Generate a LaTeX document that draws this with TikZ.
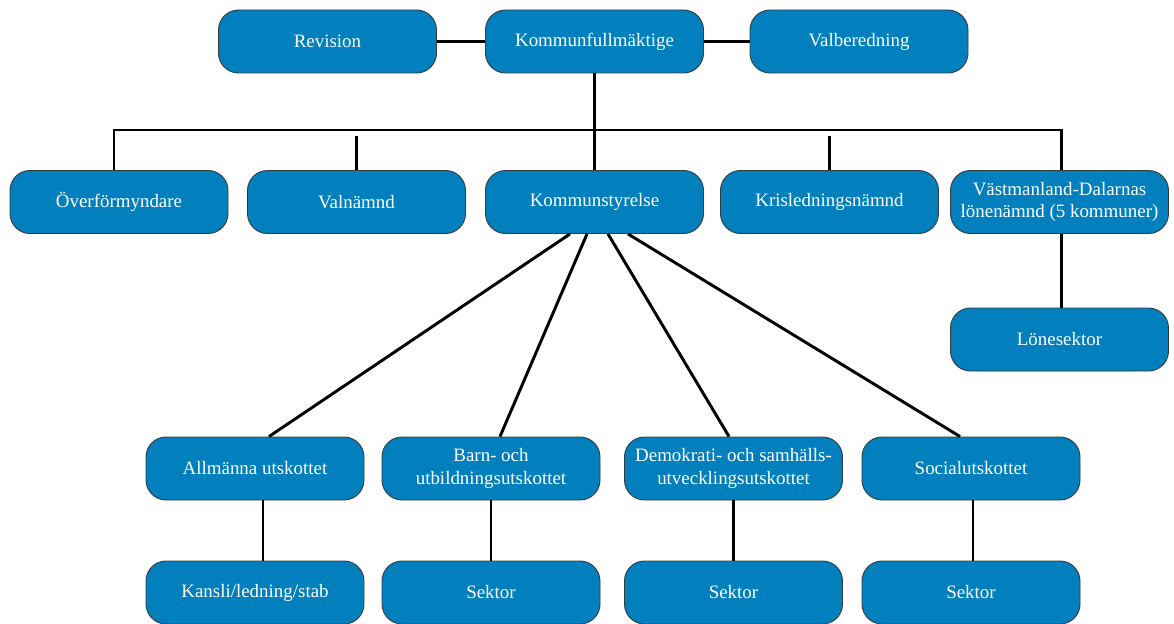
\documentclass[tikz,border=0pt]{standalone}
\usepackage{fontspec}
\setmainfont{Liberation Serif}
\usetikzlibrary{calc}
\definecolor{boxblue}{RGB}{2,128,190}
\definecolor{boxedge}{RGB}{50,60,70}
\begin{document}
\begin{tikzpicture}[x=0.75pt,y=-0.75pt,
  orgbox/.style={draw=boxedge,line width=0.7pt,fill=boxblue,rounded corners=15pt,
    minimum width=163.5pt,minimum height=47.25pt,inner sep=1pt,text=white,
    align=center,font=\fontsize{14.2}{17}\selectfont},
  link/.style={line width=2.2pt,black}]
\useasboundingbox (0,0) rectangle (1174,624);
% top row
\node[orgbox] (rev) at (327.5,41.5) {Revision};
\node[orgbox] (kf) at (594.5,41.5) {Kommunfullmäktige};
\node[orgbox] (vb) at (859,41.5) {Valberedning};
% second row
\node[orgbox] (ov) at (119,202) {Överförmyndare};
\node[orgbox] (vn) at (356.5,202) {Valnämnd};
\node[orgbox] (ks) at (594.5,202) {Kommunstyrelse};
\node[orgbox] (kl) at (829.5,202) {Krisledningsnämnd};
\node[orgbox] (vm) at (1059.5,202) {Västmanland-Dalarnas\\lönenämnd (5 kommuner)};
\node[orgbox] (ls) at (1059.5,339.5) {Lönesektor};
% third row
\node[orgbox] (au) at (255,468.5) {Allmänna utskottet};
\node[orgbox] (bu) at (491,468.5) {Barn- och\\utbildningsutskottet};
\node[orgbox] (du) at (733.5,468.5) {Demokrati- och samhälls-\\utvecklingsutskottet};
\node[orgbox] (su) at (971,468.5) {Socialutskottet};
% fourth row
\node[orgbox] (kls) at (255,592.5) {Kansli/ledning/stab};
\node[orgbox] (s1) at (491,592.5) {Sektor};
\node[orgbox] (s2) at (733.5,592.5) {Sektor};
\node[orgbox] (s3) at (971,592.5) {Sektor};
% connectors
\coordinate (bus) at (594.5,130);
\coordinate (ovtop) at ($(ov.north)+(-5,0)$);
\coordinate (vmtop) at ($(vm.north)+(2,0)$);
\draw[link] (rev) -- (kf);
\draw[link] (kf) -- (vb);
\draw[link] (kf.south) -- (ks.north);
\draw[link] (ovtop) -- (ovtop |- bus) -- (vmtop |- bus) -- (vmtop);
\draw[link] (vn.north) -- ($(vn.north |- bus)+(0,6)$);
\draw[link] (kl.north) -- ($(kl.north |- bus)+(0,6)$);
\draw[link] ($(vm.south)+(2,0)$) -- ($(ls.north)+(2,0)$);
\draw[link] ($(ks.south)+(-24.5,0)$) -- ($(au.north)+(14,0)$);
\draw[link] ($(ks.south)+(-7.5,0)$) -- ($(bu.north)+(9,0)$);
\draw[link] ($(ks.south)+(13.5,0)$) -- ($(du.north)+(-4.5,0)$);
\draw[link] ($(ks.south)+(33.5,0)$) -- ($(su.north)+(-11,0)$);
\draw[link] ($(au.south)+(8,0)$) -- ($(kls.north)+(8,0)$);
\draw[link] (bu.south) -- (s1.north);
\draw[link] (du.south) -- (s2.north);
\draw[link] ($(su.south)+(2,0)$) -- ($(s3.north)+(2,0)$);
\end{tikzpicture}
\end{document}
